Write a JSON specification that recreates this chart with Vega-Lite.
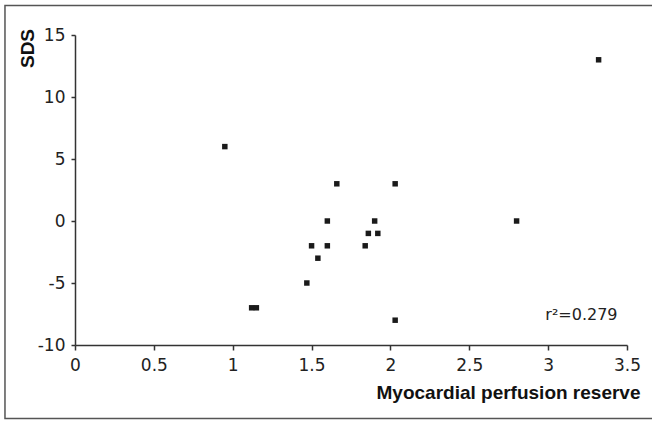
{
  "$schema": "https://vega.github.io/schema/vega-lite/v6.json",
  "autosize": {"type": "none"},
  "padding": {"left": 75, "top": 35, "right": 25, "bottom": 76},
  "width": 552,
  "height": 310,
  "background": "white",
  "config": {"view": {"stroke": null}},
  "layer": [
    {
      "data": {"values": [{}]},
      "mark": {"type": "rect", "fill": null, "stroke": "#555555", "strokeWidth": 1.5, "clip": false},
      "encoding": {
        "x": {"datum": -0.444, "type": "quantitative", "scale": {"domain": [0, 3.5]}},
        "x2": {"datum": 4.6},
        "y": {"datum": 17.38, "type": "quantitative", "scale": {"domain": [-10, 15]}},
        "y2": {"datum": -15.93}
      }
    },
    {
      "data": {
        "values": [
          {"mpr": 0.95, "sds": 6},
          {"mpr": 3.32, "sds": 13},
          {"mpr": 1.66, "sds": 3},
          {"mpr": 2.03, "sds": 3},
          {"mpr": 1.6, "sds": 0},
          {"mpr": 1.9, "sds": 0},
          {"mpr": 2.8, "sds": 0},
          {"mpr": 1.86, "sds": -1},
          {"mpr": 1.92, "sds": -1},
          {"mpr": 1.5, "sds": -2},
          {"mpr": 1.6, "sds": -2},
          {"mpr": 1.84, "sds": -2},
          {"mpr": 1.54, "sds": -3},
          {"mpr": 1.47, "sds": -5},
          {"mpr": 1.12, "sds": -7},
          {"mpr": 1.15, "sds": -7},
          {"mpr": 2.03, "sds": -8}
        ]
      },
      "mark": {"type": "square", "size": 30, "color": "#1a1a1a", "opacity": 1, "filled": true},
      "encoding": {
        "x": {
          "field": "mpr", "type": "quantitative",
          "scale": {"domain": [0, 3.5], "nice": false, "zero": false},
          "axis": {
            "values": [0, 0.5, 1, 1.5, 2, 2.5, 3, 3.5],
            "format": "~g",
            "grid": false,
            "domainColor": "#333333", "domainWidth": 1.5,
            "tickColor": "#333333", "tickWidth": 1.5, "tickSize": 5,
            "labelFont": "DejaVu Sans", "labelFontSize": 17, "labelColor": "#222222", "labelPadding": 7,
            "labelFlush": false,
            "title": "Myocardial perfusion reserve",
            "titleFont": "Liberation Sans", "titleFontWeight": "bold", "titleFontSize": 19, "titleColor": "#111111",
            "titleAlign": "right", "titleAnchor": "end", "titleX": 565, "titleY": 53, "titleBaseline": "alphabetic"
          }
        },
        "y": {
          "field": "sds", "type": "quantitative",
          "scale": {"domain": [-10, 15], "nice": false, "zero": false},
          "axis": {
            "values": [-10, -5, 0, 5, 10, 15],
            "labelExpr": "datum.value + ''",
            "grid": false,
            "domainColor": "#333333", "domainWidth": 1.5,
            "tickColor": "#333333", "tickWidth": 1.5, "tickSize": 4,
            "labelFont": "DejaVu Sans", "labelFontSize": 17, "labelColor": "#222222", "labelPadding": 6,
            "title": "SDS",
            "titleFont": "Liberation Sans", "titleFontWeight": "bold", "titleFontSize": 19, "titleColor": "#111111",
            "titleAngle": 270, "titleAlign": "center", "titleBaseline": "alphabetic", "titleX": -42, "titleY": 13
          }
        }
      }
    },
    {
      "data": {"values": [{"label": "r²=0.279"}]},
      "mark": {"type": "text", "align": "right", "baseline": "middle", "font": "DejaVu Sans", "fontSize": 16, "color": "#222222"},
      "encoding": {
        "text": {"field": "label"},
        "x": {"datum": 3.44, "type": "quantitative", "scale": {"domain": [0, 3.5]}},
        "y": {"datum": -7.6, "type": "quantitative", "scale": {"domain": [-10, 15]}}
      }
    }
  ]
}
